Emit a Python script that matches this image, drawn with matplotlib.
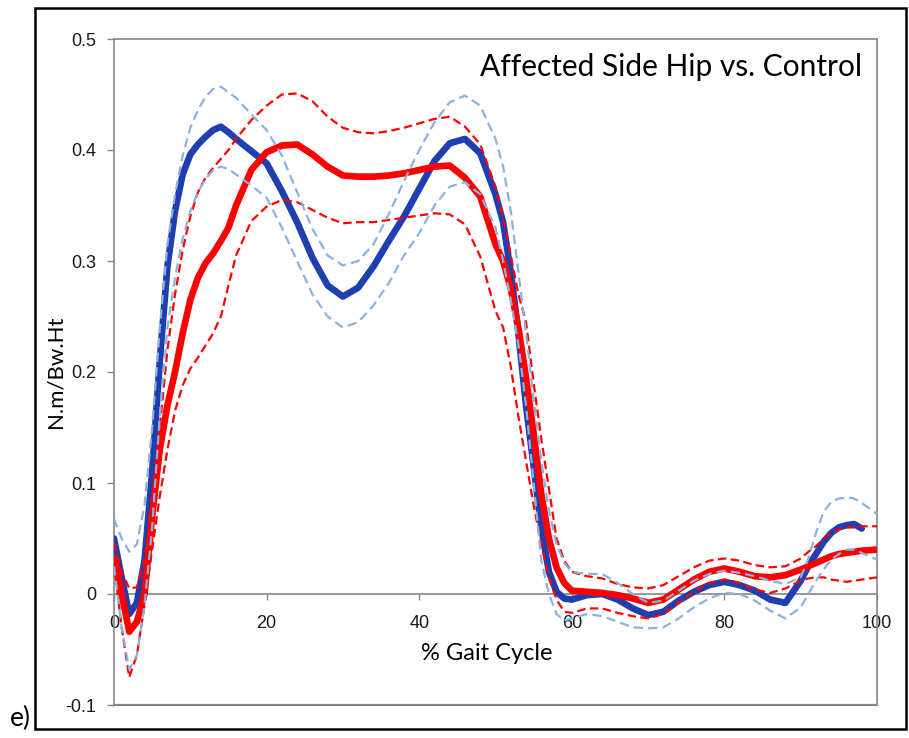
#!/usr/bin/env python3
"""
Hip moment over the gait cycle: affected side vs. control (mean +/- SD)
"""

import matplotlib
matplotlib.use('Agg')
import matplotlib.pyplot as plt
from matplotlib.patches import Rectangle

# % gait cycle sample points
pct = [0, 1, 2, 3, 4, 5, 6, 7, 8, 9, 10, 11, 12, 13, 14, 15, 16, 18, 20, 22,
       24, 26, 28, 30, 32, 34, 36, 38, 40, 42, 44, 46, 48, 50, 51, 52, 53, 54,
       55, 56, 57, 58, 59, 60, 62, 64, 66, 68, 70, 72, 74, 76, 78, 80, 82, 84,
       86, 88, 90, 91, 92, 93, 94, 95, 96, 97, 98, 100]

# control mean (ends at 98 %)
control_mean = [0.050, 0.015, -0.018, -0.008, 0.030, 0.110, 0.210, 0.295, 0.345,
                0.378, 0.396, 0.405, 0.412, 0.418, 0.421, 0.416, 0.410, 0.399,
                0.388, 0.363, 0.335, 0.303, 0.278, 0.268, 0.276, 0.295, 0.318,
                0.340, 0.365, 0.390, 0.406, 0.410, 0.397, 0.360, 0.335, 0.290,
                0.235, 0.170, 0.115, 0.060, 0.020, 0.002, -0.004, -0.005, -0.001,
                0.000, -0.005, -0.013, -0.019, -0.016, -0.006, 0.002, 0.008,
                0.011, 0.008, 0.003, -0.005, -0.008, 0.012, 0.025, 0.036, 0.047,
                0.055, 0.060, 0.062, 0.063, 0.059]

control_upper = [0.068, 0.050, 0.038, 0.045, 0.080, 0.150, 0.240, 0.315, 0.360,
                 0.395, 0.420, 0.436, 0.448, 0.455, 0.457, 0.452, 0.447, 0.432,
                 0.418, 0.395, 0.362, 0.329, 0.305, 0.296, 0.300, 0.315, 0.342,
                 0.372, 0.400, 0.425, 0.443, 0.449, 0.440, 0.410, 0.385, 0.345,
                 0.290, 0.235, 0.175, 0.120, 0.075, 0.045, 0.028, 0.020, 0.018,
                 0.018, 0.010, 0.000, -0.008, -0.006, 0.003, 0.012, 0.018, 0.021,
                 0.019, 0.016, 0.012, 0.009, 0.015, 0.032, 0.055, 0.074, 0.083,
                 0.086, 0.087, 0.086, 0.082, 0.072]

control_lower = [0.025, -0.030, -0.068, -0.055, -0.010, 0.060, 0.160, 0.240,
                 0.285, 0.320, 0.345, 0.362, 0.374, 0.382, 0.385, 0.383, 0.378,
                 0.368, 0.357, 0.330, 0.300, 0.270, 0.250, 0.240, 0.245, 0.260,
                 0.280, 0.305, 0.325, 0.350, 0.367, 0.371, 0.360, 0.330, 0.300,
                 0.265, 0.225, 0.170, 0.100, 0.030, 0.000, -0.018, -0.024, -0.022,
                 -0.018, -0.020, -0.025, -0.030, -0.031, -0.030, -0.022, -0.012,
                 -0.004, 0.001, 0.000, -0.006, -0.015, -0.022, -0.012, 0.000,
                 0.012, 0.022, 0.031, 0.036, 0.040, 0.040, 0.037, 0.031]

affected_mean = [0.035, 0.000, -0.034, -0.025, 0.000, 0.070, 0.130, 0.170, 0.200,
                 0.235, 0.265, 0.285, 0.298, 0.307, 0.318, 0.330, 0.350, 0.382,
                 0.398, 0.404, 0.405, 0.396, 0.385, 0.377, 0.376, 0.376, 0.377,
                 0.379, 0.382, 0.385, 0.386, 0.375, 0.358, 0.315, 0.300, 0.275,
                 0.240, 0.195, 0.145, 0.090, 0.050, 0.024, 0.010, 0.003, 0.002,
                 0.001, -0.001, -0.004, -0.008, -0.005, 0.004, 0.013, 0.020, 0.023,
                 0.020, 0.016, 0.015, 0.017, 0.022, 0.025, 0.028, 0.031, 0.034,
                 0.036, 0.037, 0.038, 0.039, 0.040]

affected_upper = [0.046, 0.020, 0.005, 0.006, 0.030, 0.080, 0.150, 0.220, 0.270,
                  0.310, 0.340, 0.362, 0.375, 0.384, 0.392, 0.400, 0.410, 0.427,
                  0.440, 0.450, 0.451, 0.444, 0.430, 0.420, 0.416, 0.415, 0.417,
                  0.420, 0.424, 0.428, 0.430, 0.421, 0.405, 0.367, 0.340, 0.305,
                  0.270, 0.245, 0.190, 0.140, 0.095, 0.050, 0.030, 0.020, 0.016,
                  0.014, 0.009, 0.006, 0.005, 0.008, 0.016, 0.024, 0.030, 0.032,
                  0.030, 0.026, 0.024, 0.025, 0.032, 0.038, 0.043, 0.050, 0.055,
                  0.058, 0.060, 0.060, 0.061, 0.061]

affected_lower = [0.028, -0.030, -0.075, -0.055, -0.010, 0.040, 0.088, 0.130,
                  0.165, 0.188, 0.203, 0.213, 0.224, 0.235, 0.250, 0.278, 0.305,
                  0.336, 0.349, 0.355, 0.353, 0.346, 0.339, 0.334, 0.335, 0.335,
                  0.337, 0.339, 0.341, 0.343, 0.342, 0.333, 0.304, 0.255, 0.240,
                  0.205, 0.160, 0.120, 0.080, 0.045, 0.015, -0.005, -0.016, -0.017,
                  -0.013, -0.013, -0.017, -0.020, -0.022, -0.018, -0.008, 0.002,
                  0.010, 0.013, 0.010, 0.004, 0.001, 0.005, 0.012, 0.014, 0.015,
                  0.015, 0.013, 0.012, 0.011, 0.012, 0.013, 0.015]

x_ticks = [0, 20, 40, 60, 80, 100]
y_ticks = [-0.1, 0, 0.1, 0.2, 0.3, 0.4, 0.5]
y_tick_labels = ['-0.1', '0', '0.1', '0.2', '0.3', '0.4', '0.5']

BLUE = '#1f3fb0'
LIGHT_BLUE = '#8db1df'
RED = '#ff0000'
AXIS_GRAY = '#868686'

fig = plt.figure(figsize=(9.09, 7.38), dpi=100)
ax = fig.add_axes([114 / 909, 33 / 738, 763 / 909, 666 / 738])

# mean curves (thick)
ax.plot(pct[:len(control_mean)], control_mean, color=BLUE, lw=4.8,
        solid_capstyle='round', solid_joinstyle='round', zorder=3)
ax.plot(pct, affected_mean, color=RED, lw=4.8,
        solid_capstyle='butt', solid_joinstyle='round', zorder=4)

# +/- SD curves (dashed)
for ys in (affected_upper, affected_lower):
    ax.plot(pct, ys, color=RED, lw=1.6, dashes=(3.8, 2.0), zorder=5)
for ys in (control_upper, control_lower):
    ax.plot(pct, ys, color=LIGHT_BLUE, lw=1.6, dashes=(4.2, 2.3), zorder=6)

ax.set_xlim(0, 100)
ax.set_ylim(-0.1, 0.5)

# x axis runs through zero, the plot box stays round the whole area
ax.spines['bottom'].set_position(('data', 0))
for side in ('bottom', 'top', 'right', 'left'):
    ax.spines[side].set_color(AXIS_GRAY)
    ax.spines[side].set_linewidth(1.2)
ax.axhline(-0.1, color=AXIS_GRAY, lw=1.6, clip_on=False, zorder=1)

ax.set_xticks(x_ticks)
ax.set_yticks(y_ticks)
ax.set_yticklabels(y_tick_labels)
ax.tick_params(axis='x', direction='out', length=4, width=1, color=AXIS_GRAY,
               pad=11, labelsize=13, labelcolor='#1a1a1a')
ax.tick_params(axis='y', direction='out', length=5, width=1, color=AXIS_GRAY,
               pad=8, labelsize=13, labelcolor='#1a1a1a')
for lab in ax.get_xticklabels() + ax.get_yticklabels():
    lab.set_family('Liberation Sans')

fig.text(862 / 909, 1 - 67 / 738, 'Affected Side Hip vs. Control',
         family='Lato', fontsize=21.5, ha='right', va='center')
fig.text(487 / 909, 1 - 653 / 738, '% Gait Cycle',
         family='Lato', fontsize=17, ha='center', va='center')
fig.text(56 / 909, 1 - 372 / 738, 'N.m/Bw.Ht',
         family='Lato', fontsize=16, rotation=90, ha='center', va='center')
fig.text(20 / 909, 1 - 718 / 738, 'e)',
         family='Lato', fontsize=19, ha='center', va='center')

# outer frame round the panel
fig.patches.append(Rectangle((35 / 909, 9 / 738), 871 / 909, 721 / 738,
                             transform=fig.transFigure, fill=False,
                             edgecolor='black', lw=1.8))

fig.savefig('out.png', dpi=100)
